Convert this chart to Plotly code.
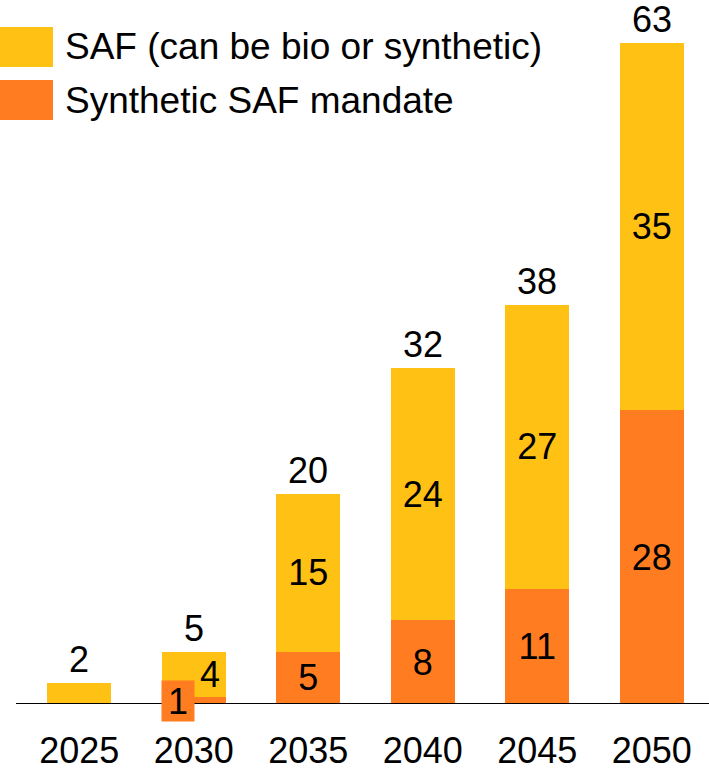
import plotly.graph_objects as go

# Mandated SAF volumes by year
years = ["2025", "2030", "2035", "2040", "2045", "2050"]
synthetic = [0, 0.7, 5, 8, 11, 28]
saf_other = [2, 4.3, 15, 24, 27, 35]
totals = [2, 5, 20, 32, 38, 63]

series_names = ["SAF (can be bio or synthetic)", "Synthetic SAF mandate"]
YELLOW = "#FFC114"
ORANGE = "#FF7D20"
FONT = "Liberation Sans, Arial, sans-serif"
W, H = 709, 772


def px_x(p):
    return p / W


def px_y(p):
    return 1 - p / H


def seg_label(v, min_val=3):
    return f"{v:.0f}" if v >= min_val else ""


# 2030 gets its own callout labels; other segments labelled inside the bar
syn_text = ["" if y == "2030" else seg_label(v) for y, v in zip(years, synthetic)]
saf_text = ["" if y == "2030" else seg_label(v) for y, v in zip(years, saf_other)]

fig = go.Figure()
fig.add_trace(go.Bar(
    x=years, y=synthetic, name=series_names[1], marker_color=ORANGE,
    marker_line_width=0, text=syn_text, textposition="inside",
    insidetextanchor="middle", constraintext="none", textangle=0,
    textfont=dict(size=36, color="black", family=FONT),
    hoverinfo="skip", showlegend=False,
))
fig.add_trace(go.Bar(
    x=years, y=saf_other, name=series_names[0], marker_color=YELLOW,
    marker_line_width=0, text=saf_text, textposition="inside",
    insidetextanchor="middle", constraintext="none", textangle=0,
    textfont=dict(size=36, color="black", family=FONT),
    hoverinfo="skip", showlegend=False,
))

# totals above each stack
for y, t in zip(years, totals):
    fig.add_annotation(x=y, y=t, text=f"{t:.0f}", showarrow=False,
                       yanchor="bottom", yshift=1,
                       font=dict(size=36, color="black", family=FONT))

# 2030 callouts
i30 = years.index("2030")
fig.add_annotation(x=years[i30], y=0, text=f"{synthetic[i30]:.0f}", showarrow=False,
                   xanchor="center", yanchor="middle", xshift=-16, yshift=3,
                   width=32, height=40, borderpad=0, bgcolor=ORANGE,
                   font=dict(size=36, color="black", family=FONT))
fig.add_annotation(x=years[i30], y=synthetic[i30] + saf_other[i30] / 2,
                   text=f"{saf_other[i30]:.0f}", showarrow=False,
                   xanchor="center", yanchor="middle", xshift=16,
                   font=dict(size=36, color="black", family=FONT))

# baseline
fig.add_shape(type="line", xref="paper", yref="y", x0=px_x(16), x1=1, y0=0, y1=0,
              line=dict(color="black", width=2))

# legend
legend_rows = [(series_names[0], YELLOW, 27, 67), (series_names[1], ORANGE, 80, 120)]
for label, color, top, bot in legend_rows:
    fig.add_shape(type="rect", xref="paper", yref="paper",
                  x0=0, x1=px_x(53), y0=px_y(bot), y1=px_y(top),
                  fillcolor=color, line_width=0)
    fig.add_annotation(xref="paper", yref="paper", x=px_x(63), y=px_y((top + bot) / 2),
                       text=label, showarrow=False, xanchor="left", yanchor="middle",
                       font=dict(size=37, color="black", family=FONT))

fig.update_layout(
    template="none",
    width=W, height=H,
    margin=dict(l=0, r=0, t=0, b=0),
    barmode="stack", bargap=0.44,
    paper_bgcolor="white", plot_bgcolor="white",
    font=dict(family=FONT, size=36, color="black"),
    xaxis=dict(domain=[px_x(22), 1], showgrid=False, showline=False, zeroline=False,
               ticks="", ticklabelstandoff=22, automargin=False,
               tickfont=dict(size=36, family=FONT, color="black")),
    yaxis=dict(domain=[px_y(704), 1], range=[0, 704 / 10.5], visible=False,
               showgrid=False, zeroline=False, automargin=False),
)

fig.write_html("out.html")
